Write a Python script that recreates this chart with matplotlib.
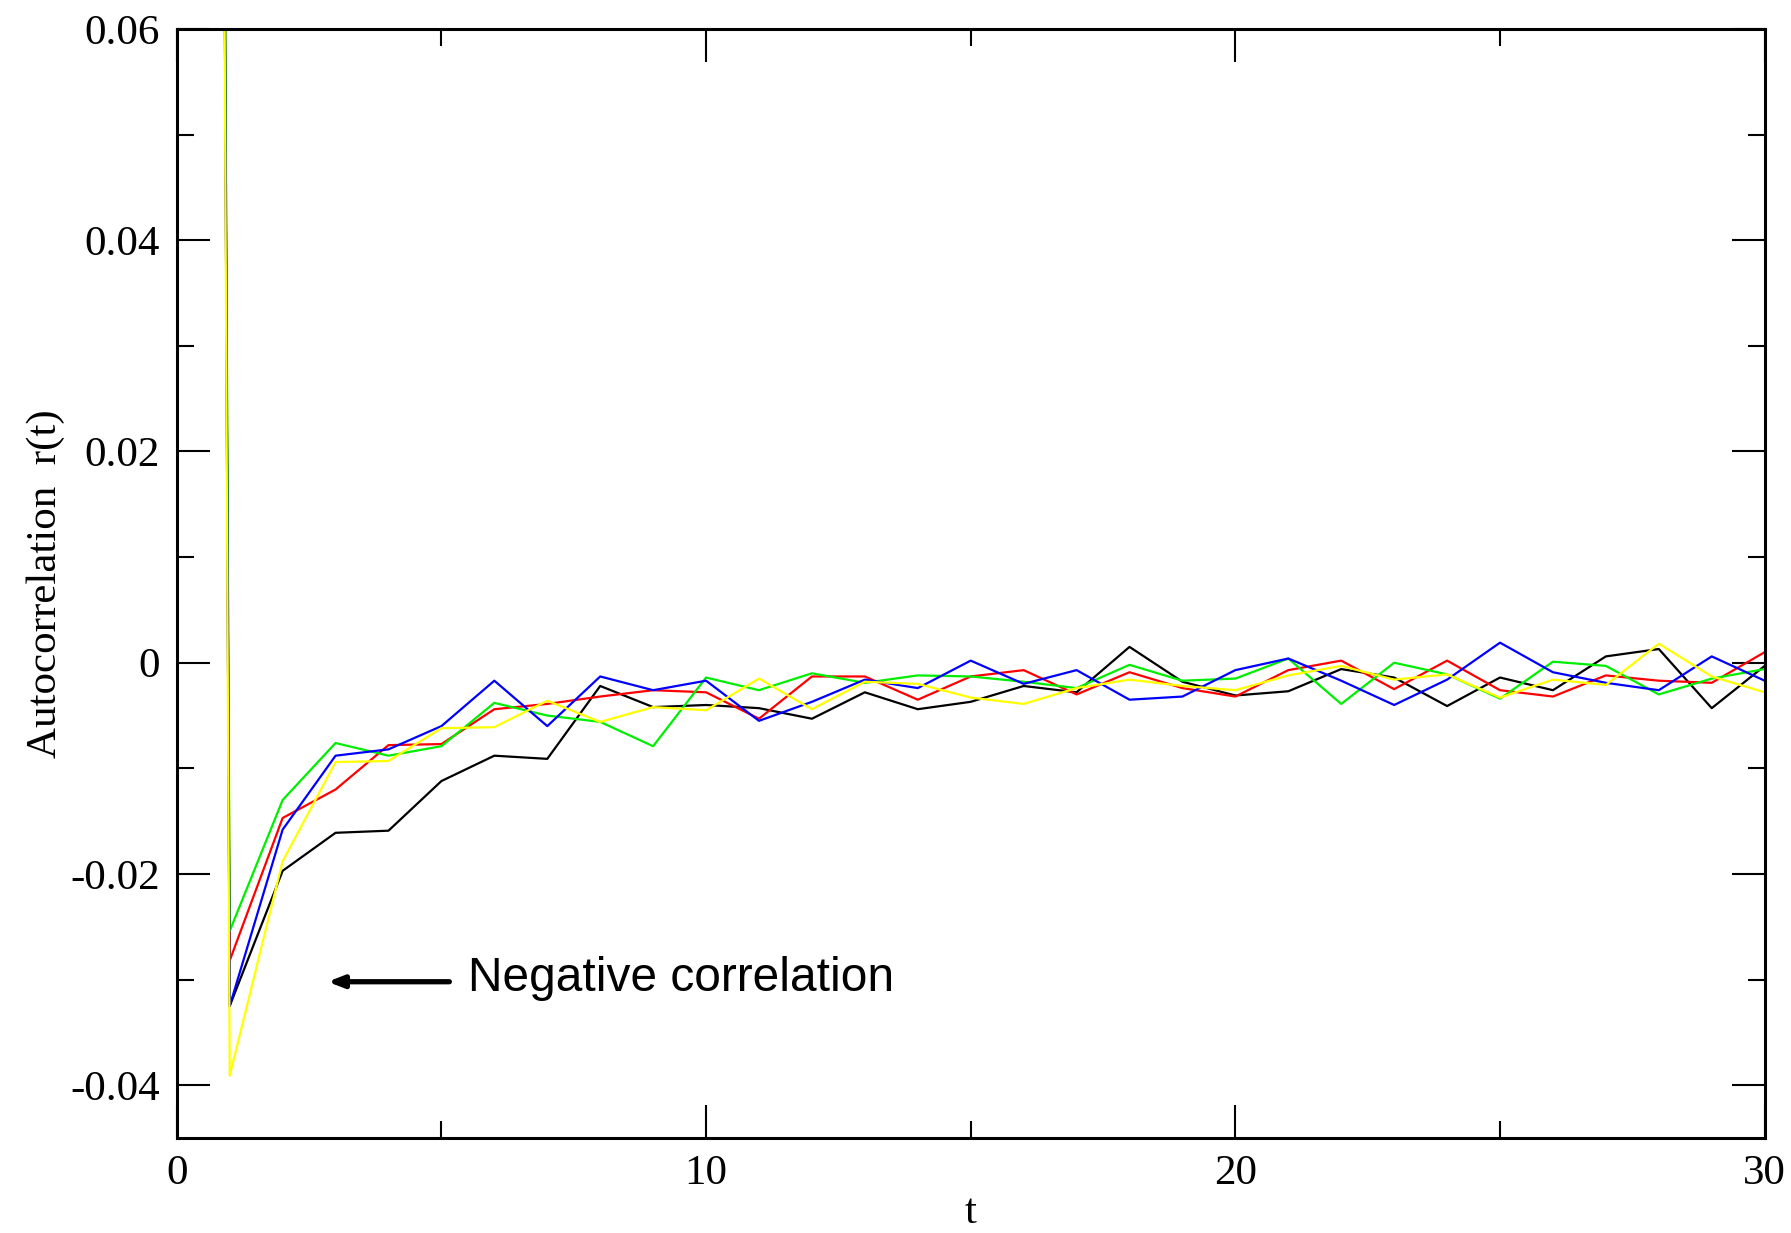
# Autocorrelation r(t) for five runs, xmgrace-style plot

import numpy as np
import matplotlib.pyplot as plt
from matplotlib.ticker import MultipleLocator, FuncFormatter

t = np.arange(0, 31)

# values (t = 0 starts at 1.0, far above the view)
black = [1.0, -0.0325, -0.0197, -0.0161, -0.0159, -0.0112, -0.0088, -0.0091, -0.0022, -0.0042,
         -0.0040, -0.0043, -0.0053, -0.0028, -0.0044, -0.0037, -0.0022, -0.0028, 0.0015, -0.0018,
         -0.0031, -0.0027, -0.0006, -0.0014, -0.0041, -0.0014, -0.0026, 0.0006, 0.0013, -0.0043,
         -0.0003]
red = [1.0, -0.0282, -0.0147, -0.0120, -0.0078, -0.0077, -0.0044, -0.0039, -0.0032, -0.0026,
       -0.0028, -0.0053, -0.0013, -0.0013, -0.0035, -0.0013, -0.0007, -0.0030, -0.0009, -0.0024,
       -0.0032, -0.0007, 0.0002, -0.0025, 0.0002, -0.0026, -0.0032, -0.0012, -0.0017, -0.0019,
       0.0010]
green = [1.0, -0.0254, -0.0130, -0.0076, -0.0088, -0.0079, -0.0038, -0.0050, -0.0056, -0.0079,
         -0.0014, -0.0026, -0.0010, -0.0019, -0.0012, -0.0013, -0.0018, -0.0024, -0.0002, -0.0017,
         -0.0015, 0.0004, -0.0039, 0.0000, -0.0011, -0.0034, 0.0001, -0.0003, -0.0030, -0.0015,
         -0.0006]
blue = [1.0, -0.0325, -0.0158, -0.0088, -0.0082, -0.0060, -0.0017, -0.0060, -0.0013, -0.0026,
        -0.0017, -0.0055, -0.0037, -0.0016, -0.0024, 0.0002, -0.0020, -0.0007, -0.0035, -0.0032,
        -0.0007, 0.0004, -0.0017, -0.0040, -0.0016, 0.0019, -0.0009, -0.0019, -0.0026, 0.0006,
        -0.0017]
yellow = [1.0, -0.0391, -0.0188, -0.0094, -0.0093, -0.0062, -0.0061, -0.0036, -0.0056, -0.0042,
          -0.0045, -0.0015, -0.0044, -0.0018, -0.0020, -0.0033, -0.0039, -0.0024, -0.0016, -0.0022,
          -0.0026, -0.0012, -0.0003, -0.0016, -0.0011, -0.0033, -0.0016, -0.0021, 0.0018, -0.0013,
          -0.0028]

series = [black, red, green, blue, yellow]
colors = ["#000000", "#ff0000", "#00ee00", "#0000ff", "#ffff00"]

fig = plt.figure(figsize=(17.91, 12.33), dpi=100)
ax = fig.add_axes([0.0987, 0.077, 0.8866, 0.8995])

for s, c in zip(series, colors):
    ax.plot(t, s, color=c, lw=1.6)

ax.set_xlim(0, 30)
ax.set_ylim(-0.045, 0.06)

ax.xaxis.set_major_locator(MultipleLocator(10))
ax.xaxis.set_minor_locator(MultipleLocator(5))
ax.yaxis.set_major_locator(MultipleLocator(0.02))
ax.yaxis.set_minor_locator(MultipleLocator(0.01))


def fmt(v, pos):
    if abs(v) < 1e-9:
        return "0"
    return ("%g" % v).replace("\u2212", "-")


ax.yaxis.set_major_formatter(FuncFormatter(fmt))
ax.xaxis.set_major_formatter(FuncFormatter(lambda v, p: "%d" % round(v)))

ax.tick_params(which="both", direction="in", top=True, right=True, width=1.5)
ax.tick_params(which="major", length=24)
ax.tick_params(which="minor", length=12)
ax.tick_params(axis="y", which="major", pad=12)
ax.tick_params(axis="x", which="major", pad=12)
for lab in ax.get_xticklabels() + ax.get_yticklabels():
    lab.set_fontfamily("Liberation Serif")
    lab.set_fontsize(31)

for sp in ax.spines.values():
    sp.set_linewidth(2.2)

ax.set_xlabel("t", fontfamily="Liberation Serif", fontsize=31, labelpad=0)
ax.set_ylabel("Autocorrelation  r(t)", fontfamily="Liberation Serif", fontsize=31, labelpad=4)

# annotation
ax.annotate("", xy=(2.85, -0.0302), xytext=(5.15, -0.0302),
            arrowprops=dict(arrowstyle="-|>,head_length=0.9,head_width=0.35", color="black",
                            lw=3.8, shrinkA=0, shrinkB=0))
ax.text(5.5, -0.0299, "Negative correlation", fontfamily="Liberation Sans", fontsize=34.5,
        ha="left", va="center")

fig.savefig("out.png", dpi=100)
